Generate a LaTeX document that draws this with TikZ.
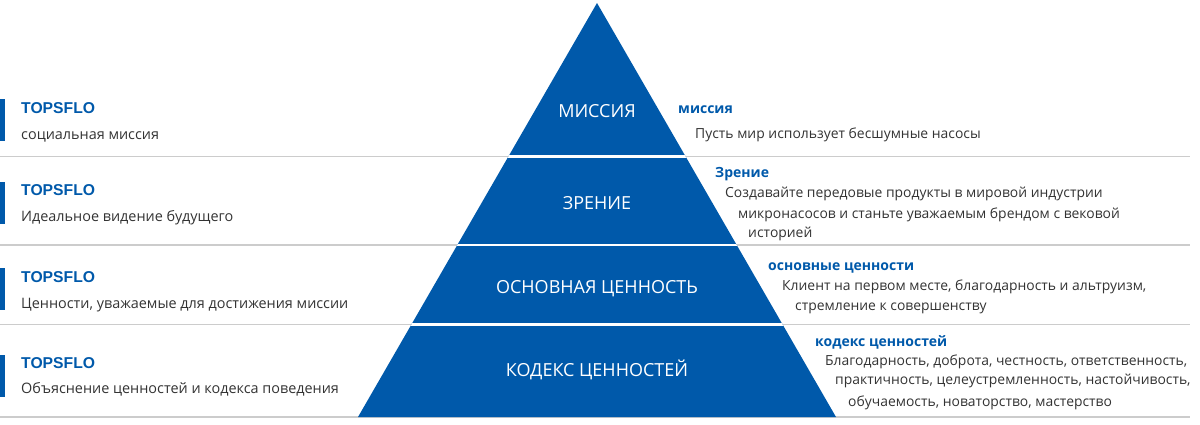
\documentclass[tikz,border=0pt]{standalone}
\usepackage{fontspec}
\setmainfont{Open Sans}
\newfontfamily\brandfont{Liberation Sans}
\usepackage{xcolor}
\definecolor{tfblue}{HTML}{0059AA}
\definecolor{tftext}{HTML}{333333}
\definecolor{tfline}{HTML}{CCCCCC}

\begin{document}
\begin{tikzpicture}[x=1pt,y=-1pt,
	brandtxt/.style={anchor=base west,inner sep=0pt,text=tfblue,font=\brandfont\bfseries\fontsize{15.7}{18}\selectfont},
	notetxt/.style={anchor=base west,inner sep=0pt,text=tftext,font=\fontsize{14.4}{17}\selectfont},
	desctxt/.style={anchor=base west,inner sep=0pt,text=tftext,font=\fontsize{13.9}{17}\selectfont},
	headtxt/.style={anchor=base west,inner sep=0pt,text=tfblue,font=\bfseries\fontsize{14}{17}\selectfont},
	tiertxt/.style={anchor=base,inner sep=0pt,text=white,font=\fontsize{18}{21}\selectfont},
	sepline/.style={draw=tfline,line width=1.5pt},
	markbar/.style={fill=tfblue}]
	\useasboundingbox (0,0) rectangle (1200,424);

	\foreach \y in {156.5,245,324.5,417}
		\draw[sepline] (0,\y) -- (1190,\y);

	\begin{scope}
		\clip (597,3) -- (836,417) -- (358,417) -- cycle;
		\fill[tfblue] (300,0) rectangle (900,424);
		\foreach \y in {156.5,245,324.5}
			\draw[white,line width=2.2pt] (300,\y) -- (900,\y);
	\end{scope}

	\node[tiertxt] (tier1) at (597,117) {МИССИЯ};
	\node[tiertxt] (tier2) at (597,209) {ЗРЕНИЕ};
	\node[tiertxt] (tier3) at (597,293) {ОСНОВНАЯ ЦЕННОСТЬ};
	\node[tiertxt] (tier4) at (597,376) {КОДЕКС ЦЕННОСТЕЙ};

	\fill[markbar] (0,99) rectangle (5,141);
	\fill[markbar] (0,182) rectangle (5,224);
	\fill[markbar] (0,268) rectangle (5,310);
	\fill[markbar] (0,355) rectangle (5,397);

	\node[brandtxt] (brand1) at (21,113) {TOPSFLO};
	\node[notetxt] (note1) at (21,139) {социальная миссия};
	\node[brandtxt] (brand2) at (21,195) {TOPSFLO};
	\node[notetxt] (note2) at (21,221) {Идеальное видение будущего};
	\node[brandtxt] (brand3) at (21,282) {TOPSFLO};
	\node[notetxt] (note3) at (21,308) {Ценности, уважаемые для достижения миссии};
	\node[brandtxt] (brand4) at (21,368) {TOPSFLO};
	\node[notetxt] (note4) at (21,393) {Объяснение ценностей и кодекса поведения};

	\node[headtxt] (head1) at (678,113) {миссия};
	\node[desctxt] (desc1) at (695,138) {Пусть мир использует бесшумные насосы};

	\node[headtxt] (head2) at (715,177) {Зрение};
	\node[desctxt] (desc2a) at (725,197) {Создавайте передовые продукты в мировой индустрии};
	\node[desctxt] (desc2b) at (738,218) {микронасосов и станьте уважаемым брендом с вековой};
	\node[desctxt] (desc2c) at (748,237) {историей};

	\node[headtxt] (head3) at (768,270) {основные ценности};
	\node[desctxt] (desc3a) at (782,290) {Клиент на первом месте, благодарность и альтруизм,};
	\node[desctxt] (desc3b) at (795,310) {стремление к совершенству};

	\node[headtxt] (head4) at (815,346) {кодекс ценностей};
	\node[desctxt] (desc4a) at (825,365) {Благодарность, доброта, честность, ответственность,};
	\node[desctxt] (desc4b) at (835,384) {практичность, целеустремленность, настойчивость,};
	\node[desctxt] (desc4c) at (848,406) {обучаемость, новаторство, мастерство};

\end{tikzpicture}
\end{document}
